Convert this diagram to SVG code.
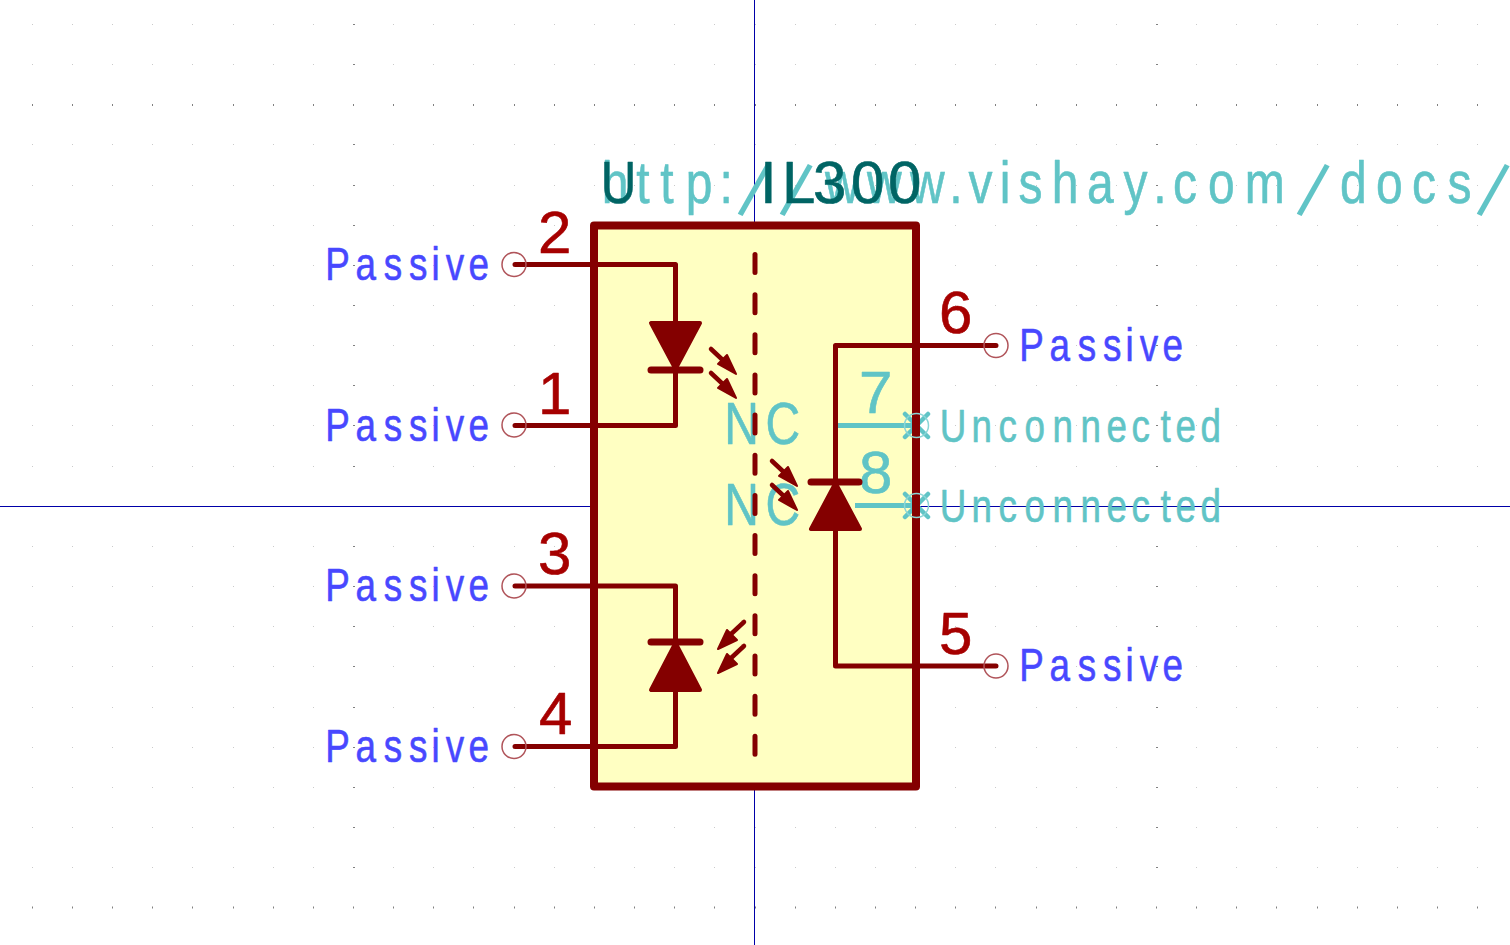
<svg xmlns="http://www.w3.org/2000/svg" xmlns:xlink="http://www.w3.org/1999/xlink" width="1510" height="945" viewBox="0 0 1510 945">
<style>
text{font-family:"Liberation Sans",Arial,sans-serif;stroke-linejoin:round;stroke-width:.6}
.pt{font-size:46px;fill:#4848ff;stroke:#4848ff}
.ut{font-size:46px;fill:#60c4c6;stroke:#60c4c6}
.num{font-size:60px;fill:#a60000;stroke:#a60000}
.hid{font-size:60px;fill:#60c4c6;stroke:#60c4c6}
.ref{font-size:60px;fill:#006464;stroke:#006464}
.sl{font-size:80px;stroke-width:0}
.w{fill:none;stroke:#840000;stroke-width:5;stroke-linecap:round;stroke-linejoin:round}
.pc{fill:none;stroke:#b0545a;stroke-width:1.5}
.tri{fill:#840000;stroke:#840000;stroke-width:4;stroke-linejoin:round}
.bar{stroke:#840000;stroke-width:7;stroke-linecap:round}
.hp{stroke:#60c4c6;stroke-width:5;fill:none}
.nc{stroke:#60c4c6;stroke-width:4.5;stroke-linecap:round;fill:none}
.ncc{stroke:#8ad6d6;stroke-width:1.5;fill:none}
.a{fill:none;stroke:#840000;stroke-width:4.5;stroke-linecap:round}
</style>
<defs>
<path id="row" d="M32 0h1M72 0h1M112 0h1M152 0h1M192 0h1M233 0h1M273 0h1M313 0h1M353 0h1M393 0h1M433 0h1M473 0h1M514 0h1M554 0h1M594 0h1M634 0h1M674 0h1M714 0h1M755 0h1M795 0h1M835 0h1M875 0h1M915 0h1M955 0h1M995 0h1M1036 0h1M1076 0h1M1116 0h1M1156 0h1M1196 0h1M1236 0h1M1276 0h1M1317 0h1M1357 0h1M1397 0h1M1437 0h1M1477 0h1"/>
<g id="arrow"><path class="a" d="M0 0L16 15"/><path fill="#840000" stroke="#840000" stroke-width="2" stroke-linejoin="round" d="M25 25L7 15L16 6Z"/></g>
<g id="arrowL"><path class="a" d="M0 0L-14 13"/><path fill="#840000" stroke="#840000" stroke-width="2" stroke-linejoin="round" d="M-26 27L-17 8L-7 18Z"/></g>
</defs>
<rect width="1510" height="945" fill="#ffffff"/>
<g id="grid" stroke="#cacaca" stroke-width="1" fill="none">
<use xlink:href="#row" href="#row" y="24.5"/><use xlink:href="#row" href="#row" y="64.5"/><use xlink:href="#row" href="#row" y="144.5"/><use xlink:href="#row" href="#row" y="185.5"/><use xlink:href="#row" href="#row" y="225.5"/><use xlink:href="#row" href="#row" y="265.5"/><use xlink:href="#row" href="#row" y="305.5"/><use xlink:href="#row" href="#row" y="345.5"/><use xlink:href="#row" href="#row" y="385.5"/><use xlink:href="#row" href="#row" y="425.5"/><use xlink:href="#row" href="#row" y="466.5"/><use xlink:href="#row" href="#row" y="546.5"/><use xlink:href="#row" href="#row" y="586.5"/><use xlink:href="#row" href="#row" y="626.5"/><use xlink:href="#row" href="#row" y="666.5"/><use xlink:href="#row" href="#row" y="707.5"/><use xlink:href="#row" href="#row" y="747.5"/><use xlink:href="#row" href="#row" y="787.5"/><use xlink:href="#row" href="#row" y="827.5"/><use xlink:href="#row" href="#row" y="867.5"/>
<g stroke="#808080"><use xlink:href="#row" href="#row" y="105" stroke-width="2"/><use xlink:href="#row" href="#row" y="907.5" stroke-width="2"/>
<path d="M353 24.5h2M353 64.5h2M353 144.5h2M353 185.5h2M353 225.5h2M353 265.5h2M353 305.5h2M353 345.5h2M353 385.5h2M353 425.5h2M353 466.5h2M353 546.5h2M353 586.5h2M353 626.5h2M353 666.5h2M353 707.5h2M353 747.5h2M353 787.5h2M353 827.5h2M353 867.5h2M1156 24.5h2M1156 64.5h2M1156 144.5h2M1156 185.5h2M1156 225.5h2M1156 265.5h2M1156 305.5h2M1156 345.5h2M1156 385.5h2M1156 425.5h2M1156 466.5h2M1156 546.5h2M1156 586.5h2M1156 626.5h2M1156 666.5h2M1156 707.5h2M1156 747.5h2M1156 787.5h2M1156 827.5h2M1156 867.5h2"/></g>
</g>
<g id="axes" stroke="#0000a8" stroke-width="1"><path d="M754.5 0V945M0 506.5H1510"/></g>
<g id="body-fill"><rect x="594" y="225.5" width="322" height="561" fill="#ffffc2"/></g>
<g id="hidden-pins">
<path class="hp" d="M838 425.5H916M855 505.5H916"/>
<text class="hid" x="859" y="413">7</text>
<text class="hid" x="859" y="493">8</text>
<text class="hid" transform="translate(728 444) scale(.8 1)" x="-4.6 47">NC</text>
<text class="hid" transform="translate(728 525) scale(.8 1)" x="-4.6 47">NC</text>
<path class="nc" d="M905 414L928 437M928 414L905 437M905 494L928 517M928 494L905 517"/>
</g>
<g id="body"><rect x="594" y="225.5" width="322" height="561" fill="none" stroke="#840000" stroke-width="8" stroke-linejoin="round"/>
<path d="M755 254.5V760" fill="none" stroke="#840000" stroke-width="5" stroke-linecap="round" stroke-dasharray="18 22.15"/></g>
<g id="connectors">
<path class="w" d="M515 264.5H675.5V322M675.5 370V425.5H515"/>
<path class="w" d="M515 586H675.5V642M675.5 690V746.5H515"/>
<path class="w" d="M996 345.5H835.5V666H996"/>
</g>
<g id="led-input">
<path class="tri" d="M651 323H700L675.5 369Z"/><path class="bar" d="M651 370H700"/>
<use xlink:href="#arrow" href="#arrow" x="711" y="349"/><use xlink:href="#arrow" href="#arrow" x="711" y="373"/>
</g>
<g id="led-output">
<path class="tri" d="M651 690H700L675.5 643Z"/><path class="bar" d="M651 642H700"/>
<use xlink:href="#arrowL" href="#arrowL" x="744" y="622"/><use xlink:href="#arrowL" href="#arrowL" x="744" y="646"/>
</g>
<g id="photodiode">
<path class="tri" d="M811 529H860L835.5 483Z"/><path class="bar" d="M811 482H859"/>
<use xlink:href="#arrow" href="#arrow" x="772" y="461"/><use xlink:href="#arrow" href="#arrow" x="772" y="485"/>
</g>
<g id="pin-2"><circle class="pc" cx="514" cy="264.5" r="12"/><text class="num" x="538" y="253">2</text><text class="pt" transform="translate(328 280) scale(.8 1)" x="-3.6 34.4 69.8 101.1 129.5 147.3 175.7">Passive</text></g>
<g id="pin-1"><circle class="pc" cx="514" cy="425" r="12"/><text class="num" x="538" y="414">1</text><text class="pt" transform="translate(328 441) scale(.8 1)" x="-3.6 34.4 69.8 101.1 129.5 147.3 175.7">Passive</text></g>
<g id="pin-3"><circle class="pc" cx="514" cy="586" r="12"/><text class="num" x="538" y="574">3</text><text class="pt" transform="translate(328 601) scale(.8 1)" x="-3.6 34.4 69.8 101.1 129.5 147.3 175.7">Passive</text></g>
<g id="pin-4"><circle class="pc" cx="514" cy="746.5" r="12"/><text class="num" x="539" y="734">4</text><text class="pt" transform="translate(328 762) scale(.8 1)" x="-3.6 34.4 69.8 101.1 129.5 147.3 175.7">Passive</text></g>
<g id="pin-6"><circle class="pc" cx="996" cy="345.5" r="12"/><text class="num" x="939" y="333">6</text><text class="pt" transform="translate(1022 360.5) scale(.8 1)" x="-3.6 34.4 69.8 101.1 129.5 147.3 175.7">Passive</text></g>
<g id="pin-5"><circle class="pc" cx="996" cy="666" r="12"/><text class="num" x="939" y="654">5</text><text class="pt" transform="translate(1022 681) scale(.8 1)" x="-3.6 34.4 69.8 101.1 129.5 147.3 175.7">Passive</text></g>
<g id="pin-7"><circle class="ncc" cx="916.5" cy="425.5" r="12"/><text class="ut" transform="translate(943 441.5) scale(.8 1)" x="-4 35.5 69.4 102 136.8 171.8 204.4 235.6 271.8 290.7 322">Unconnected</text></g>
<g id="pin-8"><circle class="ncc" cx="916.5" cy="505.5" r="12"/><text class="ut" transform="translate(943 522) scale(.8 1)" x="-4 35.5 69.4 102 136.8 171.8 204.4 235.6 271.8 290.7 322">Unconnected</text></g>
<g id="datasheet"><text class="hid" transform="translate(605 203) scale(.8 1)"><tspan x="-4 39.2 69.2 101 143" y="0">http:</tspan><tspan class="sl" x="166.25" y="10" rotate="20">/</tspan><tspan class="sl" x="218.75" y="10" rotate="20">/</tspan><tspan x="275 327.5 381.25 430.4 454.5 493.3 516.75 558.5 602.6 648.25 685.4 710.1 753.85 799.75" y="0">www.vishay.com</tspan><tspan class="sl" x="865" y="10" rotate="20">/</tspan><tspan x="918.85 963.85 1008.85 1053" y="0">docs</tspan><tspan class="sl" x="1090" y="10" rotate="20">/</tspan></text></g>
<g id="reference"><text class="ref" transform="translate(605 203) scale(.82 1)" x="-5.2">U</text></g>
<g id="value"><text class="ref" x="760 782 813 851 888" y="203">IL300</text></g>
</svg>
